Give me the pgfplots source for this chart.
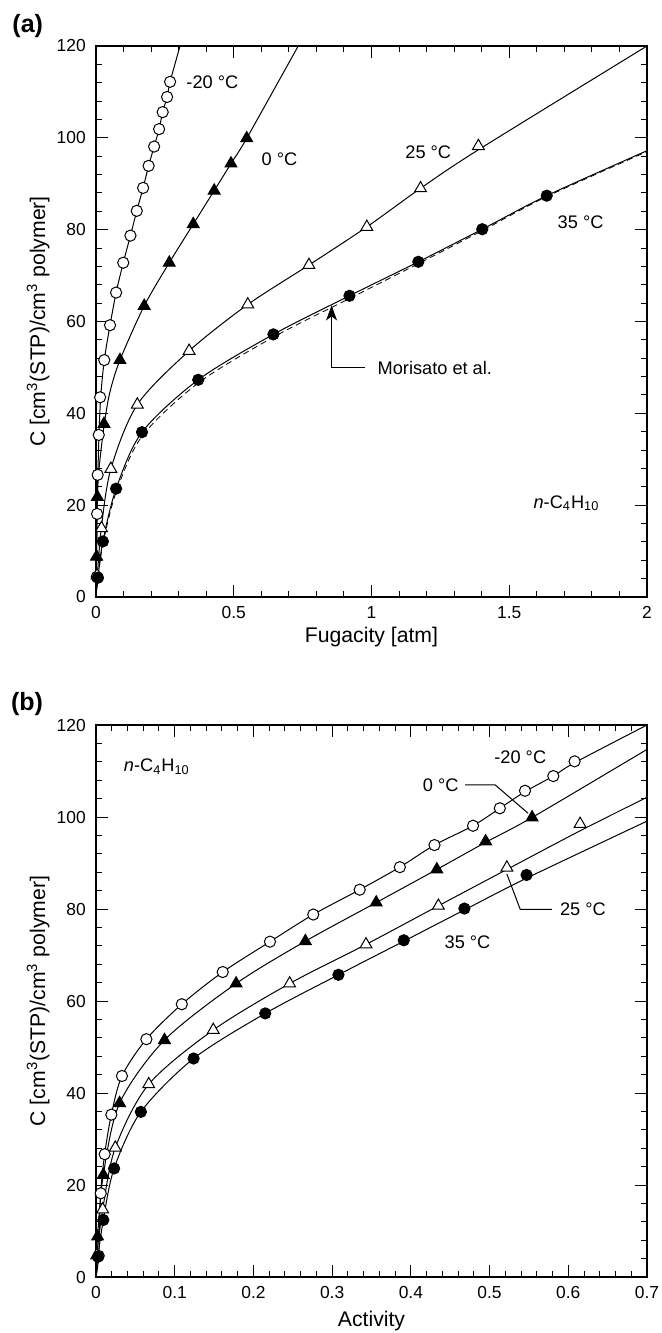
\documentclass[border=0pt]{standalone}
\usepackage{fontspec}
\setmainfont{Liberation Sans}
\usepackage{pgfplots}
\pgfplotsset{compat=1.18}
\usetikzlibrary{arrows.meta}

\tikzset{lab/.style={font=\fontsize{9.1}{11}\selectfont, inner sep=0pt}}
\pgfplotsset{
  myax/.style={
    scale only axis, width=275.5pt,
    ymin=0, ymax=120, ytick={0,20,...,120}, minor y tick num=4,
    tick align=inside, major tick length=6pt, minor tick length=3pt,
    every tick/.style={line width=0.5pt, black},
    axis line style={line width=0.6pt},
    tick label style={font=\fontsize{8.7}{10}\selectfont},
    label style={font=\fontsize{10.6}{12}\selectfont},
    /pgf/number format/assume math mode=true,
    yticklabel style={xshift=-1.6pt},
    xticklabel style={yshift=-1pt},
    ylabel={C [cm\textsuperscript{3}(STP)/cm\textsuperscript{3} polymer]},
    ylabel style={at={(axis description cs:-0.105,0.5)}, anchor=center},
    clip=true,
  },
  curve/.style={no marks, smooth, black, line width=0.5pt},
  ocirc/.style={only marks, mark=*, mark size=2.8pt, mark options={fill=white, draw=black, line width=0.5pt}},
  fcirc/.style={only marks, mark=*, mark size=2.8pt, mark options={fill=black, draw=black, line width=0.5pt}},
  otri/.style={only marks, mark=triangle*, mark size=3.4pt, mark options={fill=white, draw=black, line width=0.5pt}},
  ftri/.style={only marks, mark=triangle*, mark size=3.4pt, mark options={fill=black, draw=black, line width=0.5pt}},
}

\begin{document}
\begin{tikzpicture}
\path[use as bounding box] (0,0) rectangle (330.5pt,-666.5pt);

\node[font=\bfseries\fontsize{12.5}{14}\selectfont, anchor=east, inner sep=0pt] at (21.7pt,-13pt) {(a)};
\node[font=\bfseries\fontsize{12.5}{14}\selectfont, anchor=east, inner sep=0pt] at (21.7pt,-351.8pt) {(b)};

% ---------------- panel (a) ----------------
\begin{axis}[myax, at={(48pt,-298.5pt)}, anchor=south west, height=275.5pt,
  xmin=0, xmax=2, xtick={0,0.5,1,1.5,2}, minor x tick num=4,
  xlabel={Fugacity [atm]},
  xlabel style={at={(axis description cs:0.5,-0.0726)}, anchor=center}]
% fitted curves
\addplot[curve] coordinates {(0,0) (0.002,8) (0.004,18) (0.007,27) (0.011,35.5) (0.017,43.5) (0.030,51.6) (0.051,59.2) (0.073,66.3) (0.099,72.8) (0.125,78.7) (0.148,84.1) (0.171,89.1) (0.191,93.9) (0.211,98.1) (0.229,101.9) (0.242,105.6) (0.258,108.9) (0.269,112.2) (0.305,120)};
\addplot[curve] coordinates {(0,0) (0.002,8.8) (0.005,21.8) (0.012,28.5) (0.030,37.6) (0.05,44.5) (0.087,51.6) (0.175,63.4) (0.266,72.8) (0.353,81.2) (0.429,88.5) (0.490,94.4) (0.547,99.9) (0.734,120)};
\addplot[curve] coordinates {(0,0) (0.005,4.7) (0.019,14.8) (0.054,27.9) (0.150,41.9) (0.338,53.6) (0.551,63.7) (0.773,72.3) (0.983,80.6) (1.178,89.0) (1.388,97.4) (2,120)};
\addplot[curve] coordinates {(0,0) (0.007,4.2) (0.025,12.1) (0.073,23.6) (0.167,35.9) (0.371,47.3) (0.644,57.2) (0.920,65.6) (1.170,73.0) (1.402,80.1) (1.636,87.4) (2,97.2)};
\addplot[no marks, smooth, black, line width=0.4pt, dash pattern=on 3pt off 2pt] coordinates {(0,0) (0.007,3.8) (0.025,11.5) (0.073,22.8) (0.167,35.0) (0.371,46.6) (0.644,56.6) (0.920,65.0) (1.170,72.6) (1.402,79.8) (1.636,87.2) (2,97.0)};
% annotations
\draw[line width=0.5pt, -{Stealth[length=7.5pt, width=5.5pt, inset=2pt]}] (axis cs:0.976,49.9) -- (axis cs:0.855,49.9) -- (axis cs:0.855,63.5);
\node[lab, anchor=west] at (axis cs:1.021,49.8) {Morisato et al.};
\node[lab, anchor=west] at (axis cs:0.327,112.2) {-20 °C};
\node[lab, anchor=west] at (axis cs:0.60,95.4) {0 °C};
\node[lab] at (axis cs:1.206,96.8) {25 °C};
\node[lab] at (axis cs:1.759,81.7) {35 °C};
\node[lab, anchor=west] at (axis cs:1.587,20.4) {\textit{n}-C\textsubscript{4}H\textsubscript{10}};
% data
\addplot[ocirc] coordinates {(0.003,4.4) (0.004,18.1) (0.006,26.6) (0.010,35.3) (0.015,43.5) (0.030,51.6) (0.051,59.2) (0.073,66.3) (0.099,72.8) (0.125,78.7) (0.148,84.1) (0.171,89.1) (0.191,93.9) (0.211,98.1) (0.229,101.9) (0.242,105.6) (0.258,108.9) (0.269,112.2)};
\addplot[ftri] coordinates {(0.002,8.8) (0.005,21.8) (0.029,37.7) (0.087,51.6) (0.175,63.4) (0.266,72.8) (0.353,81.2) (0.429,88.5) (0.490,94.4) (0.547,99.9)};
\addplot[otri] coordinates {(0.004,4.7) (0.020,15.0) (0.054,27.9) (0.150,41.9) (0.338,53.6) (0.551,63.7) (0.773,72.3) (0.983,80.6) (1.178,89.0) (1.388,98.2)};
\addplot[fcirc] coordinates {(0.007,4.2) (0.025,12.1) (0.073,23.6) (0.167,35.9) (0.371,47.3) (0.644,57.2) (0.920,65.6) (1.170,73.0) (1.402,80.1) (1.636,87.4)};
\end{axis}

% ---------------- panel (b) ----------------
\begin{axis}[myax, at={(48pt,-638.5pt)}, anchor=south west, height=276pt,
  xmin=0, xmax=0.7, xtick={0,0.1,...,0.7}, minor x tick num=4,
  xlabel={Activity},
  xlabel style={at={(axis description cs:0.5,-0.0806)}, anchor=center}]
\addplot[curve] coordinates {(0,0) (0.0034,4.6) (0.006,18.2) (0.011,26.7) (0.0195,35.3) (0.033,43.7) (0.064,51.7) (0.109,59.3) (0.161,66.3) (0.221,72.9) (0.276,78.8) (0.335,84.2) (0.386,89.1) (0.430,93.9) (0.479,98.1) (0.513,101.9) (0.545,105.5) (0.581,108.9) (0.608,111.8) (0.7,120)};
\addplot[curve] coordinates {(0,0) (0.002,8.8) (0.0093,22.2) (0.030,37.8) (0.087,51.5) (0.178,63.8) (0.266,73.0) (0.356,81.4) (0.433,88.6) (0.495,94.5) (0.554,99.9) (0.7,114.7)};
\addplot[curve] coordinates {(0,0) (0.001,4.7) (0.0085,14.7) (0.0245,28.1) (0.067,41.9) (0.149,53.7) (0.246,63.8) (0.343,72.3) (0.435,80.7) (0.522,88.6) (0.615,97.0) (0.7,104.3)};
\addplot[curve] coordinates {(0,0) (0.0025,4.4) (0.0093,12.4) (0.023,23.6) (0.057,35.9) (0.124,47.5) (0.215,57.3) (0.308,65.7) (0.391,73.0) (0.468,79.8) (0.547,86.7) (0.7,99.1)};
% annotations
\draw[line width=0.5pt] (axis cs:0.469,107.0) -- (axis cs:0.507,107.0) -- (axis cs:0.549,100.8);
\draw[line width=0.5pt] (axis cs:0.579,79.9) -- (axis cs:0.539,79.9) -- (axis cs:0.522,87.6);
\node[lab] at (axis cs:0.539,112.9) {-20 °C};
\node[lab, anchor=east] at (axis cs:0.461,107.0) {0 °C};
\node[lab, anchor=west] at (axis cs:0.589,79.9) {25 °C};
\node[lab] at (axis cs:0.472,72.7) {35 °C};
\node[lab, anchor=west] at (axis cs:0.035,110.9) {\textit{n}-C\textsubscript{4}H\textsubscript{10}};
% data
\addplot[ocirc] coordinates {(0.0034,4.6) (0.006,18.2) (0.011,26.7) (0.0195,35.3) (0.033,43.7) (0.064,51.7) (0.109,59.3) (0.161,66.3) (0.221,72.9) (0.276,78.8) (0.335,84.2) (0.386,89.1) (0.430,93.9) (0.479,98.1) (0.513,101.9) (0.545,105.7) (0.581,108.9) (0.608,112.1)};
\addplot[ftri] coordinates {(0.002,8.8) (0.0093,22.2) (0.030,37.8) (0.087,51.5) (0.178,63.8) (0.266,73.0) (0.356,81.4) (0.433,88.6) (0.495,94.7) (0.554,99.9)};
\addplot[otri] coordinates {(0.001,4.7) (0.0085,14.7) (0.0245,28.1) (0.067,41.9) (0.149,53.7) (0.246,63.8) (0.343,72.3) (0.435,80.7) (0.522,89.0) (0.615,98.5)};
\addplot[fcirc] coordinates {(0.0025,4.4) (0.0093,12.4) (0.023,23.6) (0.057,35.9) (0.124,47.5) (0.215,57.3) (0.308,65.7) (0.391,73.2) (0.468,80.1) (0.547,87.4)};
\end{axis}
\end{tikzpicture}
\end{document}
